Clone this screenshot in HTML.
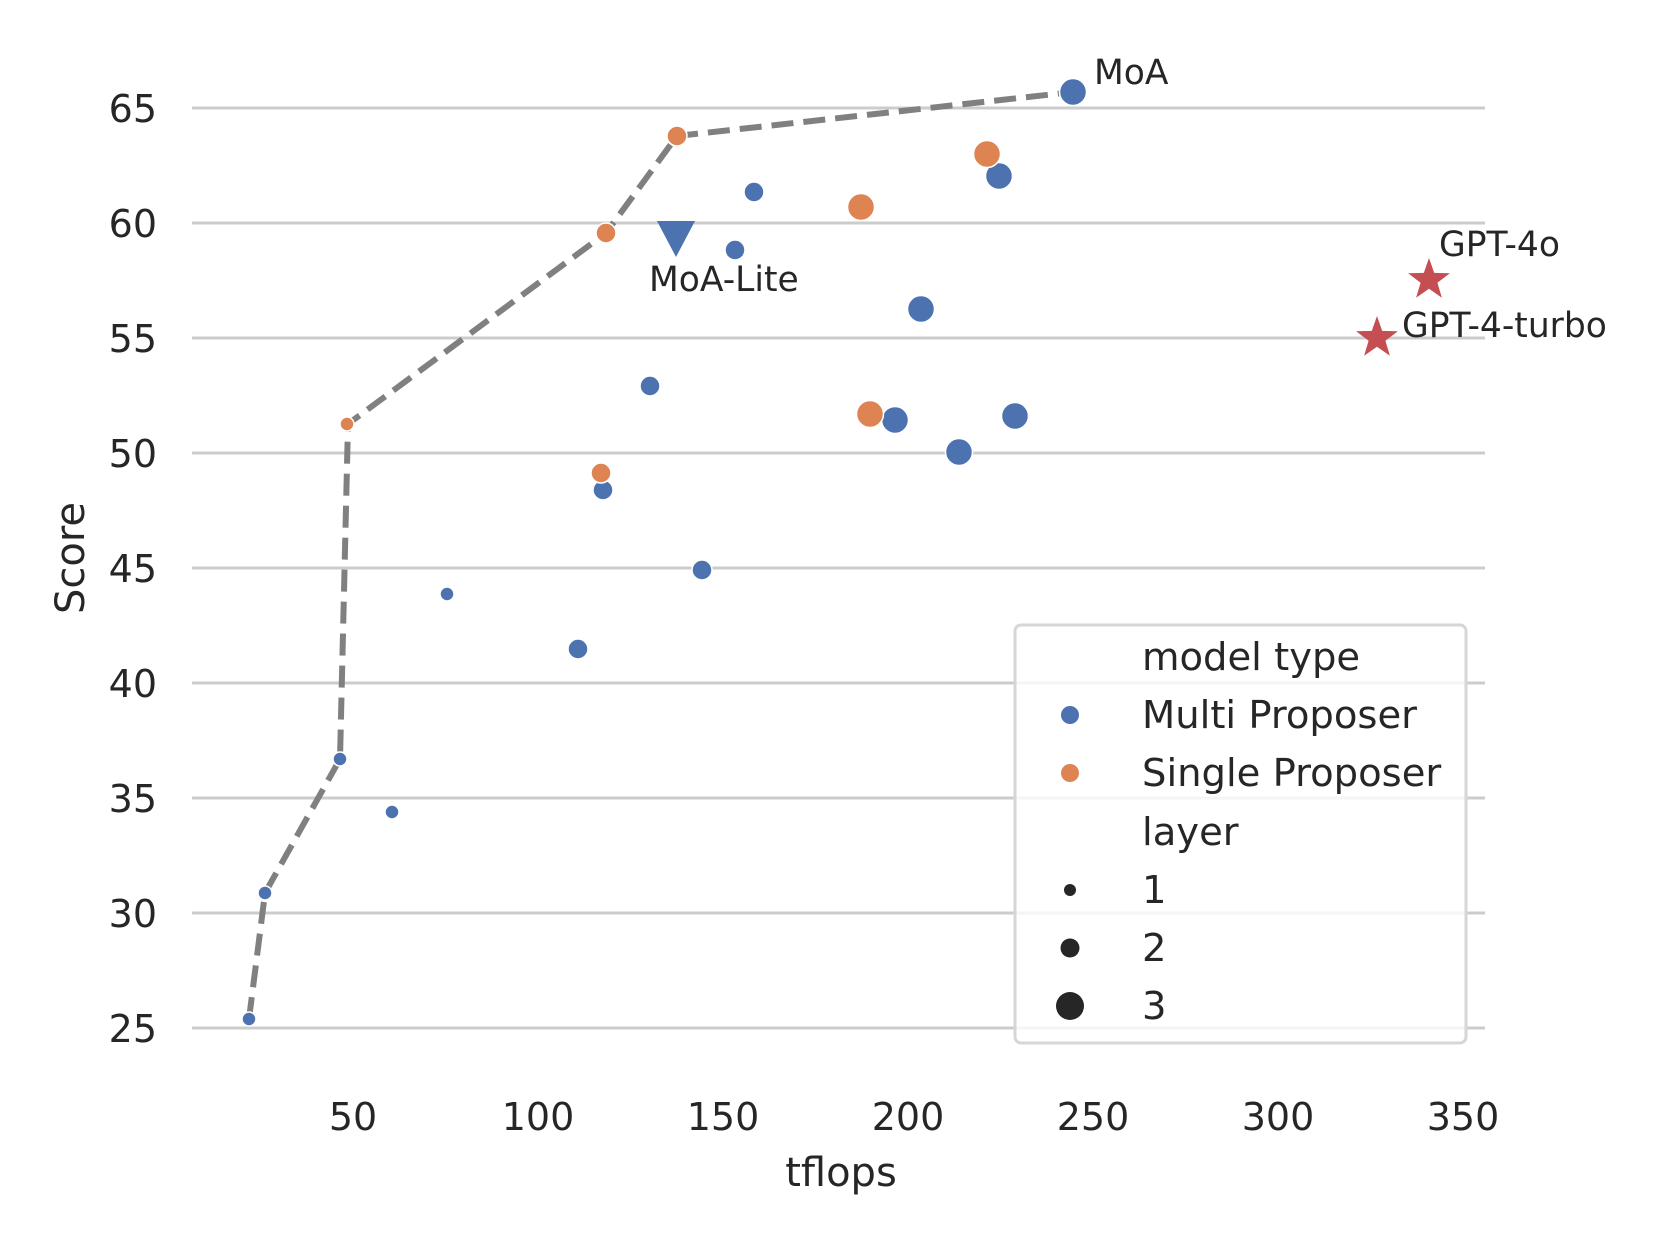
<!DOCTYPE html>
<html><head><meta charset="utf-8"><style>
html,body{margin:0;padding:0;background:#fff;}
svg{display:block;font-family:"DejaVu Sans","Liberation Sans",sans-serif;}
</style></head><body>
<svg width="1660" height="1245" viewBox="0 0 1660 1245" xmlns="http://www.w3.org/2000/svg">
<g stroke="#cccccc" stroke-width="3">
<line x1="192" x2="1485" y1="108" y2="108"/>
<line x1="192" x2="1485" y1="223" y2="223"/>
<line x1="192" x2="1485" y1="338" y2="338"/>
<line x1="192" x2="1485" y1="453" y2="453"/>
<line x1="192" x2="1485" y1="568" y2="568"/>
<line x1="192" x2="1485" y1="683" y2="683"/>
<line x1="192" x2="1485" y1="798" y2="798"/>
<line x1="192" x2="1485" y1="913" y2="913"/>
<line x1="192" x2="1485" y1="1028" y2="1028"/>
</g>
<g fill="#262626" font-size="38" text-anchor="end">
<text x="157" y="122">65</text>
<text x="157" y="237">60</text>
<text x="157" y="352">55</text>
<text x="157" y="467">50</text>
<text x="157" y="582">45</text>
<text x="157" y="697">40</text>
<text x="157" y="812">35</text>
<text x="157" y="927">30</text>
<text x="157" y="1042">25</text>
</g>
<g fill="#262626" font-size="38" text-anchor="middle">
<text x="353" y="1130">50</text>
<text x="538" y="1130">100</text>
<text x="723" y="1130">150</text>
<text x="908" y="1130">200</text>
<text x="1093" y="1130">250</text>
<text x="1278" y="1130">300</text>
<text x="1463" y="1130">350</text>
<text x="841" y="1186" font-size="40">tflops</text>
<text transform="translate(84,558) rotate(-90)" font-size="40">Score</text>
</g>
<g transform="translate(-3,-1)">
<polyline fill="none" stroke="#808080" stroke-width="6" stroke-dasharray="22,10" points="252,1020 268,894 343,760 351,425 609,234 680,137 1076,93"/>
<g stroke="#fff" stroke-width="1.5">
<g fill="#4c72b0">
<circle cx="252" cy="1020" r="7"/>
<circle cx="268" cy="894" r="7"/>
<circle cx="343" cy="760" r="7"/>
<circle cx="395" cy="813" r="7"/>
<circle cx="450" cy="595" r="7"/>
<circle cx="581" cy="650" r="10"/>
<circle cx="606" cy="491" r="10"/>
<circle cx="653" cy="387" r="10"/>
<circle cx="705" cy="571" r="10"/>
<circle cx="738" cy="251" r="10"/>
<circle cx="757" cy="193" r="10"/>
<circle cx="898" cy="421" r="13.5"/>
<circle cx="924" cy="310" r="13.5"/>
<circle cx="962" cy="453" r="13.5"/>
<circle cx="1002" cy="177" r="13.5"/>
<circle cx="1018" cy="417" r="13.5"/>
<circle cx="1076" cy="93" r="13.5"/>
</g>
<g fill="#dd8452">
<circle cx="350" cy="425" r="7"/>
<circle cx="604" cy="474" r="10"/>
<circle cx="609" cy="234" r="10"/>
<circle cx="680" cy="137" r="10"/>
<circle cx="864" cy="208" r="13.5"/>
<circle cx="873" cy="415" r="13.5"/>
<circle cx="990" cy="155" r="13.5"/>
</g>
</g>
<polygon points="660,222 698,222 679,258" fill="#4c72b0"/>
<g fill="#c44e52">
<polygon transform="translate(1432,281)" points="0,-22 5.2,-7.1 20.9,-6.8 8.4,2.7 12.9,17.8 0,8.8 -12.9,17.8 -8.4,2.7 -20.9,-6.8 -5.2,-7.1"/>
<polygon transform="translate(1380,339)" points="0,-22 5.2,-7.1 20.9,-6.8 8.4,2.7 12.9,17.8 0,8.8 -12.9,17.8 -8.4,2.7 -20.9,-6.8 -5.2,-7.1"/>
</g>
<g fill="#262626" font-size="34.5">
<text x="1097" y="85">MoA</text>
<text x="652" y="292">MoA-Lite</text>
<text x="1442" y="257">GPT-4o</text>
<text x="1405" y="338">GPT-4-turbo</text>
</g>
</g>
<g transform="translate(-4,-3)">
<rect x="1019" y="628" width="451" height="418" rx="6" fill="#fff" fill-opacity="0.8" stroke="#d6d6d6" stroke-width="3"/>
<g fill="#262626" font-size="38.5">
<text x="1146" y="673">model type</text>
<text x="1146" y="731">Multi Proposer</text>
<text x="1146" y="789">Single Proposer</text>
<text x="1146" y="848">layer</text>
<text x="1146" y="906">1</text>
<text x="1146" y="964">2</text>
<text x="1146" y="1022">3</text>
</g>
<circle cx="1074" cy="718" r="9" fill="#4c72b0"/>
<circle cx="1074" cy="776" r="9" fill="#dd8452"/>
<circle cx="1074" cy="893" r="6" fill="#262626"/>
<circle cx="1074" cy="951" r="9.5" fill="#262626"/>
<circle cx="1074" cy="1009" r="14" fill="#262626"/>
</g>
</svg>
</body></html>
